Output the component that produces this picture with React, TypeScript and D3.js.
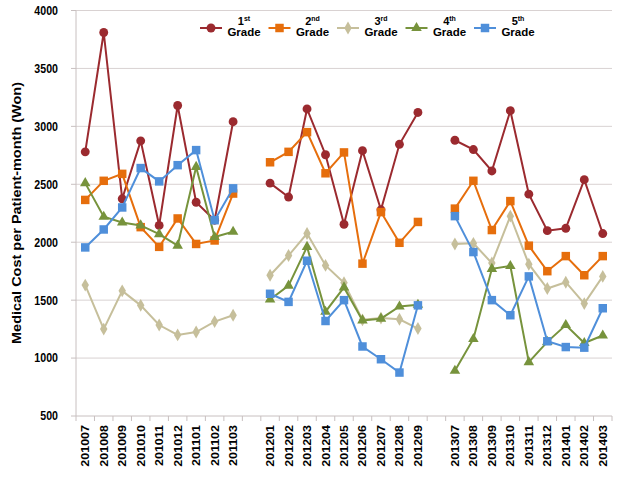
import React from "react";
import * as d3 from "d3";

const categories: string[] = [
  "201007", "201008", "201009", "201010", "201011", "201012", "201101", "201102", "201103",
  "",
  "201201", "201202", "201203", "201204", "201205", "201206", "201207", "201208", "201209",
  "",
  "201307", "201308", "201309", "201310", "201311", "201312", "201401", "201402", "201403",
];

const grade1: (number | null)[] = [
  2780, 3810, 2375, 2875, 2145, 3180, 2345, 2190, 3040, null,
  2510, 2390, 3150, 2755, 2155, 2790, 2280, 2845, 3120, null,
  2880, 2800, 2615, 3135, 2415, 2100, 2120, 2540, 2075,
];
const grade2: (number | null)[] = [
  2365, 2530, 2590, 2130, 1960, 2205, 1985, 2015, 2420, null,
  2690, 2780, 2950, 2595, 2775, 1815, 2260, 1995, 2175, null,
  2290, 2530, 2105, 2355, 1970, 1750, 1880, 1715, 1880,
];
const grade3: (number | null)[] = [
  1630, 1250, 1580, 1455, 1285, 1200, 1225, 1315, 1370, null,
  1715, 1885, 2075, 1800, 1650, 1330, 1345, 1335, 1255, null,
  1985, 1990, 1820, 2225, 1810, 1600, 1655, 1470, 1705,
];
const grade4: (number | null)[] = [
  2510, 2220, 2170, 2145, 2070, 1970, 2650, 2045, 2090, null,
  1505, 1625, 1960, 1400, 1610, 1325, 1340, 1445, 1460, null,
  890, 1165, 1770, 1795, 965, 1140, 1285, 1130, 1195,
];
const grade5: (number | null)[] = [
  1955, 2110, 2300, 2640, 2525, 2665, 2795, 2190, 2465, null,
  1555, 1485, 1840, 1320, 1500, 1100, 990, 875, 1455, null,
  2225, 1915, 1500, 1370, 1705, 1145, 1095, 1090, 1430,
];

const seriesNums = ["1", "2", "3", "4", "5"];
const seriesSuffix = ["st", "nd", "rd", "th", "th"];
const seriesColors = ["#9B2A2F", "#E66E0C", "#C6BF9B", "#77933C", "#4F8FDA"];
const seriesShapes = ["circle", "square", "diamond", "triangle", "square"];
const yTicks = [500, 1000, 1500, 2000, 2500, 3000, 3500, 4000];
const yTitle = "Medical Cost per Patient-month  (Won)";

const W = 618;
const H = 477;
const FONT = "'Liberation Sans', Arial, Helvetica, sans-serif";

function symbolPath(shape: string): string {
  const map: Record<string, [d3.SymbolType, number]> = {
    circle: [d3.symbolCircle, 62],
    square: [d3.symbolSquare, 72],
    diamond: [d3.symbolDiamond, 48],
    triangle: [d3.symbolTriangle, 48],
  };
  const [t, s] = map[shape];
  return d3.symbol(t, s)() as string;
}

export default function App() {
  const allSeries = [grade1, grade2, grade3, grade4, grade5];
  const x = d3
    .scaleBand<number>()
    .domain(categories.map((_, i) => i))
    .range([76, 612])
    .padding(0);
  const cx = (i: number) => (x(i) as number) + x.bandwidth() / 2;
  const y = d3.scaleLinear().domain([500, 4000]).range([416, 10.5]);

  const line = d3
    .line<number | null>()
    .defined((d) => d != null)
    .x((_, i) => cx(i))
    .y((d) => y(d as number));

  const boundaries = d3.range(categories.length + 1).map((i) =>
    i < categories.length ? (x(i) as number) : 612
  );

  const legendX0 = 211;
  const legendStep = 68.5;

  return (
    <svg
      width={W}
      height={H}
      style={{ position: "absolute", left: 0, top: 0, background: "#fff" }}
      fontFamily={FONT}
    >
      <rect x={0} y={0} width={W} height={H} fill="#fff" />
      {/* gridlines */}
      {yTicks.map((t) => (
        <line
          key={t}
          x1={76}
          x2={612}
          y1={y(t)}
          y2={y(t)}
          stroke={t === 500 ? "#c8c0c0" : "#d9d2d2"}
          strokeWidth={1}
        />
      ))}
      {/* left axis */}
      <line x1={76} x2={76} y1={y(4000)} y2={y(500)} stroke="#c8c0c0" strokeWidth={1} />
      {yTicks.map((t) => (
        <line key={"yt" + t} x1={71} x2={76} y1={y(t)} y2={y(t)} stroke="#c8c0c0" />
      ))}
      {yTicks.map((t) => (
        <text
          key={"yl" + t}
          transform={`translate(58,${y(t)}) scale(0.85,1)`}
          dy="0.35em"
          textAnchor="end"
          fontSize={12.5}
          fontWeight="bold"
          fill="#000"
        >
          {t}
        </text>
      ))}
      {/* bottom ticks */}
      {boundaries.map((b, i) => (
        <line key={"xt" + i} x1={b} x2={b} y1={416} y2={421} stroke="#c8c0c0" />
      ))}
      {categories.map((c, i) =>
        c ? (
          <text
            key={"xl" + i}
            transform={`translate(${cx(i) + 4},${425}) scale(0.85,1) rotate(-90)`}
            textAnchor="end"
            fontSize={12.5}
            fontWeight="bold"
            fill="#000"
          >
            {c}
          </text>
        ) : null
      )}
      {/* y title */}
      <text
        transform={`translate(${21},${213}) scale(0.85,1) rotate(-90)`}
        textAnchor="middle"
        fontSize={14.5}
        fontWeight="bold"
        fill="#000"
      >
        {yTitle}
      </text>
      {/* series */}
      {allSeries.map((s, si) => (
        <g key={"s" + si}>
          <path d={line(s) as string} fill="none" stroke={seriesColors[si]} strokeWidth={2} />
          {s.map((v, i) =>
            v == null ? null : (
              <path
                key={i}
                d={symbolPath(seriesShapes[si])}
                transform={`translate(${cx(i)},${y(v)})`}
                fill={seriesColors[si]}
              />
            )
          )}
        </g>
      ))}
      {/* legend */}
      {seriesNums.map((n, si) => {
        const mx = legendX0 + si * legendStep;
        const tx = mx + 33;
        return (
          <g key={"lg" + si}>
            <line x1={mx - 11} x2={mx + 11} y1={28} y2={28} stroke={seriesColors[si]} strokeWidth={2} />
            <path
              d={symbolPath(seriesShapes[si])}
              transform={`translate(${mx},28)`}
              fill={seriesColors[si]}
            />
            <text x={tx} y={25} textAnchor="middle" fontSize={11} fontWeight="bold" fill="#000">
              {n}
              <tspan fontSize={7} dy={-4}>
                {seriesSuffix[si]}
              </tspan>
            </text>
            <text x={tx} y={36} textAnchor="middle" fontSize={11.5} fontWeight="bold" fill="#000">
              Grade
            </text>
          </g>
        );
      })}
    </svg>
  );
}
